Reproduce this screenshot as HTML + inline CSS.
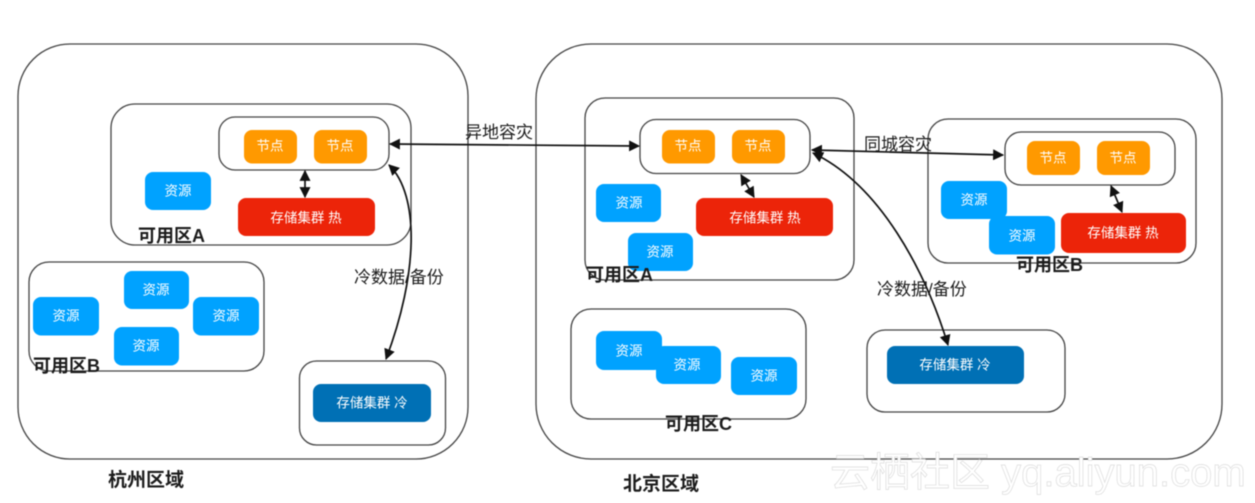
<!DOCTYPE html>
<html lang="zh">
<head>
<meta charset="utf-8">
<style>
html,body{margin:0;padding:0;background:#fff;width:1255px;height:503px;overflow:hidden}
svg{display:block;filter:blur(0.4px)}
text{font-family:"Liberation Sans","Noto Sans CJK SC",sans-serif}
.box{fill:none;stroke:#444;stroke-width:1.3}
.white{fill:#fff;stroke:#444;stroke-width:1.3}
.o{fill:#ff9900}.b{fill:#00a2ff}.r{fill:#ec2409}.c{fill:#0070b5}
.t{fill:#fff;font-size:13.500px;text-anchor:middle;dominant-baseline:central}
.l{fill:#1c1c1c;font-size:18px;font-weight:bold}
.g{fill:#1c1c1c;font-size:19px;font-weight:bold}
.m{fill:#1c1c1c;font-size:17px}
.a{fill:none;stroke:#111;stroke-width:1.7}
</style>
</head>
<body>
<svg width="1255" height="503" viewBox="0 0 1255 503" xmlns="http://www.w3.org/2000/svg">
<defs>
<marker id="h" viewBox="0 0 10 10" refX="9" refY="5" markerWidth="11" markerHeight="11" markerUnits="userSpaceOnUse" orient="auto-start-reverse"><path d="M0 0L10 5L0 10Z" fill="#111"/></marker>
</defs>

<!-- regions -->
<rect class="box" x="18" y="44" width="450" height="415" rx="52"/>
<rect class="box" x="536" y="44" width="686" height="415" rx="55"/>

<!-- Hangzhou -->
<rect class="box" x="111" y="104" width="300" height="141" rx="24"/>
<rect class="box" x="219" y="117" width="170" height="53" rx="16"/>
<rect class="o" x="244" y="130" width="53" height="33.500" rx="8"/><text class="t" x="270" y="146">节点</text>
<rect class="o" x="314" y="130" width="53" height="33.500" rx="8"/><text class="t" x="340" y="146">节点</text>
<rect class="b" x="145" y="172" width="66" height="38" rx="8"/><text class="t" x="178" y="191">资源</text>
<rect class="r" x="238" y="198" width="137" height="38" rx="8"/><text class="t" x="306" y="218">存储集群 热</text>
<text class="l" x="138" y="242">可用区A</text>

<rect class="box" x="29" y="262" width="235" height="109" rx="20"/>
<rect class="b" x="124" y="271" width="65" height="38" rx="8"/><text class="t" x="156" y="290">资源</text>
<rect class="b" x="33" y="297" width="66" height="38.500" rx="8"/><text class="t" x="66" y="316">资源</text>
<rect class="b" x="193" y="297" width="66" height="38.500" rx="8"/><text class="t" x="226" y="316">资源</text>
<rect class="b" x="114" y="327" width="65" height="38.500" rx="8"/><text class="t" x="146" y="346">资源</text>
<text class="l" x="33" y="372">可用区B</text>

<rect class="box" x="299.500" y="361" width="146" height="84" rx="17"/>
<rect class="c" x="313" y="384" width="118" height="38" rx="8"/><text class="t" x="372" y="403">存储集群 冷</text>
<text class="g" x="108" y="486">杭州区域</text>

<!-- Beijing zone A -->
<rect class="box" x="585" y="98" width="269" height="182" rx="20"/>
<rect class="white" x="640" y="119.500" width="170" height="54" rx="16"/>
<rect class="o" x="662" y="130" width="53" height="33.500" rx="8"/><text class="t" x="688" y="146">节点</text>
<rect class="o" x="732" y="130" width="53" height="33.500" rx="8"/><text class="t" x="758" y="146">节点</text>
<rect class="b" x="596" y="184" width="65" height="38" rx="8"/><text class="t" x="629" y="203">资源</text>
<rect class="b" x="628" y="233" width="65" height="38" rx="8"/><text class="t" x="660" y="252">资源</text>
<rect class="r" x="696" y="198" width="137" height="38" rx="8"/><text class="t" x="765" y="218">存储集群 热</text>
<text class="l" x="586" y="281">可用区A</text>

<!-- Beijing zone C -->
<rect class="box" x="571" y="309" width="235" height="110" rx="20"/>
<rect class="b" x="596" y="331" width="66" height="39" rx="8"/><text class="t" x="629" y="351">资源</text>
<rect class="b" x="656" y="346" width="65" height="38" rx="8"/><text class="t" x="687" y="365">资源</text>
<rect class="b" x="731" y="357" width="66" height="38" rx="8"/><text class="t" x="764" y="376">资源</text>
<text class="l" x="665" y="430">可用区C</text>

<!-- Beijing cold -->
<rect class="box" x="867" y="330" width="198" height="82" rx="18"/>
<rect class="c" x="887" y="346" width="137" height="38" rx="8"/><text class="t" x="955" y="365">存储集群 冷</text>

<!-- Beijing zone B -->
<rect class="box" x="928" y="119" width="268" height="144" rx="20"/>
<rect class="box" x="1005" y="132" width="170" height="53" rx="16"/>
<rect class="o" x="1027" y="141" width="53" height="34" rx="8"/><text class="t" x="1053" y="158">节点</text>
<rect class="o" x="1097" y="141" width="53" height="34" rx="8"/><text class="t" x="1123" y="158">节点</text>
<rect class="b" x="941" y="181" width="66" height="38" rx="8"/><text class="t" x="974" y="200">资源</text>
<rect class="b" x="989" y="216" width="66" height="38.500" rx="8"/><text class="t" x="1022" y="236">资源</text>
<rect class="r" x="1061" y="213" width="125" height="40" rx="8"/><text class="t" x="1123" y="233">存储集群 热</text>
<text class="l" x="1016" y="271">可用区B</text>
<text class="g" x="623" y="490">北京区域</text>

<!-- connectors -->
<path class="a" d="M390 144L639 146" marker-start="url(#h)" marker-end="url(#h)"/>
<path class="a" d="M812 150L1003 155" marker-start="url(#h)" marker-end="url(#h)"/>
<path class="a" d="M305 171L305 197" marker-start="url(#h)" marker-end="url(#h)"/>
<path class="a" d="M741 175L754 197" marker-start="url(#h)" marker-end="url(#h)"/>
<path class="a" d="M1111 186L1122 212" marker-start="url(#h)" marker-end="url(#h)"/>
<path class="a" d="M389 165C420 195 418 275 386 359" marker-start="url(#h)" marker-end="url(#h)"/>
<path class="a" d="M813 153C880 185 925 270 948 345" marker-start="url(#h)" marker-end="url(#h)"/>

<!-- connector labels -->
<text class="m" x="465" y="138">异地容灾</text>
<text class="m" x="864" y="150">同城容灾</text>
<text class="m" x="354" y="283">冷数据/备份</text>
<text class="m" x="877" y="295">冷数据/备份</text>

<!-- watermark -->
<text x="830" y="486" font-size="40" fill="#fff" stroke="#dcdcdc" stroke-width="0.7">云栖社区 yq.aliyun.com</text>
</svg>
</body>
</html>
